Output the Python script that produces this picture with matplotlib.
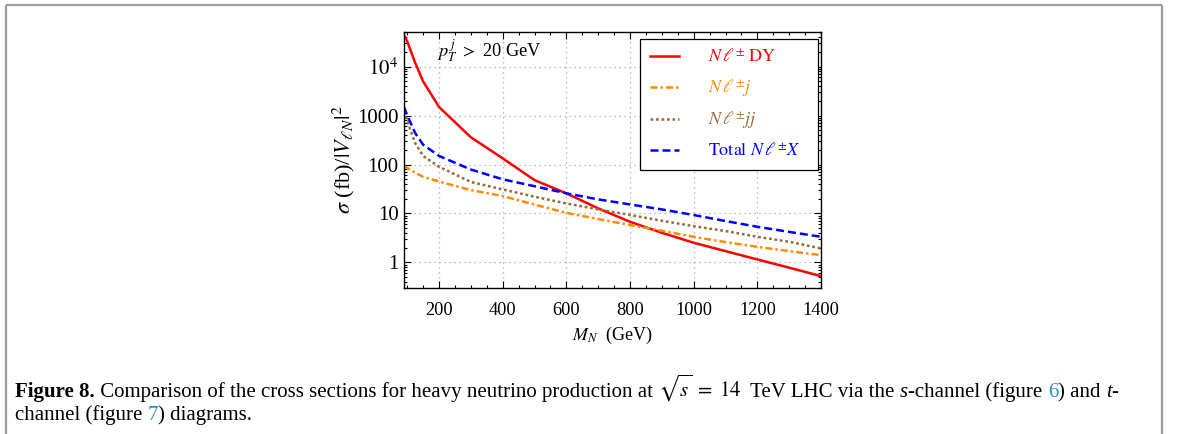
import matplotlib
matplotlib.use("Agg")
import matplotlib.pyplot as plt
from matplotlib.lines import Line2D
from matplotlib.ticker import FixedLocator, FuncFormatter, LogLocator, NullFormatter

plt.rcParams["font.family"] = ["Liberation Serif", "DejaVu Serif"]
plt.rcParams["mathtext.fontset"] = "stix"

# heavy neutrino mass (GeV) and cross sections sigma/|V|^2 (fb)
mass = [90, 100, 125, 150, 200, 300, 400, 500, 600, 700, 800, 900, 1000, 1100, 1200, 1300, 1400]
sigma_dy = [44000, 33000, 12000, 5000, 1500, 360, 134, 48, 25.8, 12.7, 6.76, 4.03, 2.52, 1.70, 1.15, 0.78, 0.525]
sigma_j = [94, 85, 68, 56, 45, 30, 22.7, 15.2, 10.3, 7.7, 5.8, 4.43, 3.34, 2.6, 2.08, 1.70, 1.41]
sigma_jj = [1230, 770, 275, 150, 90, 44, 31, 22, 16, 12.1, 9.3, 7.1, 5.5, 4.37, 3.34, 2.64, 1.93]
sigma_tot = [1500, 1010, 440, 254, 150, 79, 49.9, 36, 25.8, 19.4, 15.3, 12.1, 9.3, 7.0, 5.35, 4.2, 3.34]

x_ticks = [200, 400, 600, 800, 1000, 1200, 1400]
y_ticks = [1, 10, 100, 1000, 10000]
y_tick_labels = ["1", "10", "100", "1000", r"$10^4$"]

W, H = 1179, 434
fig = plt.figure(figsize=(W / 100, H / 100), dpi=100)

# page frame around the figure
frame = dict(color="#9e9e9e", lw=1.6, transform=fig.transFigure, solid_capstyle="butt")
fig.add_artist(Line2D([6 / W, 1162 / W], [1 - 5 / H, 1 - 5 / H], **frame))
fig.add_artist(Line2D([6 / W, 6 / W], [0, 1 - 5 / H], **frame))
fig.add_artist(Line2D([1162 / W, 1162 / W], [0, 1 - 5 / H], **frame))

ax = fig.add_axes([404 / W, 1 - 288 / H, (821 - 404) / W, (288 - 32) / H])

lw = 1.8
ax.plot(mass, sigma_dy, color="#ff0000", lw=lw, label=r"$N\,\ell^{\pm}\ \mathrm{DY}$")
ax.plot(mass, sigma_j, color="#ff8c00", lw=lw, dashes=(2.8, 1.2, 1.0, 1.2),
        label=r"$N\,\ell^{\pm} j$")
ax.plot(mass, sigma_jj, color="#9a6a3a", lw=lw, dashes=(1.1, 1.1),
        label=r"$N\,\ell^{\pm} jj$")
ax.plot(mass, sigma_tot, color="#0000ff", lw=lw, dashes=(3.2, 1.6),
        label=r"$\mathrm{Total}\ N\,\ell^{\pm} X$")

ax.set_yscale("log")
ax.set_xlim(90, 1400)
ax.set_ylim(0.3, 51000)

ax.xaxis.set_major_locator(FixedLocator(x_ticks))
ax.xaxis.set_minor_locator(FixedLocator(list(range(100, 1401, 50))))
ax.yaxis.set_major_locator(FixedLocator(y_ticks))
ax.yaxis.set_major_formatter(FuncFormatter(lambda v, p: dict(zip(y_ticks, y_tick_labels)).get(int(round(v)), "")))
ax.yaxis.set_minor_locator(LogLocator(base=10, subs=range(2, 10), numticks=20))
ax.yaxis.set_minor_formatter(NullFormatter())

ax.tick_params(which="both", direction="in", top=True, right=True, width=0.8)
ax.tick_params(which="major", length=5)
ax.tick_params(which="minor", length=2.5)
ax.tick_params(axis="x", labelsize=13.2, pad=10)
ax.tick_params(axis="y", labelsize=15, pad=4)
for s in ax.spines.values():
    s.set_linewidth(1.0)

ax.grid(True, which="major", color="#a8a8a8", linestyle=(0, (1, 3)), lw=0.9)

ax.set_xlabel(r"$M_N$  (GeV)", fontsize=13, labelpad=4)
ax.set_ylabel(r"$\sigma$ (fb)/$|V_{\ell N}|^2$", fontsize=16, labelpad=0)

ax.text(0.078, 0.925, r"$p_T^{\,j}\ >$ 20 GeV", transform=ax.transAxes, fontsize=13.2,
        ha="left", va="center")

leg = ax.legend(loc="upper left", bbox_to_anchor=(0.566, 0.465, 0.427, 0.508),
                mode="expand", borderaxespad=0,
                fontsize=13, fancybox=False, framealpha=1, edgecolor="black",
                handlelength=1.6, handletextpad=1.6, labelspacing=0.62,
                borderpad=0.55)
leg.get_frame().set_linewidth(0.9)
for txt, line in zip(leg.get_texts(), leg.get_lines()):
    txt.set_color(line.get_color())

# caption, set piece by piece so fonts and colours can change mid-line
renderer = fig.canvas.get_renderer()
cap_size = 15
link = "#2f8fc4"


def piece_width(s, **kw):
    a = fig.text(0, 0, "|" + s + "|", fontsize=cap_size, **kw)
    b = fig.text(0, 0, "||", fontsize=cap_size, **kw)
    w = a.get_window_extent(renderer).width - b.get_window_extent(renderer).width
    a.remove()
    b.remove()
    return w


def caption_line(pieces, x0, y0):
    x = x0
    for s, kw in pieces:
        fig.text(x / W, 1 - y0 / H, s, fontsize=cap_size, va="baseline", ha="left", **kw)
        x += piece_width(s, **kw)


plain = {}
caption_line([
    ("Figure 8.", dict(fontweight="bold")),
    (" Comparison of the cross sections for heavy neutrino production at ", plain),
    (r"$\sqrt{s}\;=\;14$", plain),
    ("  TeV LHC via the ", plain),
    ("s", dict(style="italic")),
    ("-channel (figure ", plain),
    ("6", dict(color=link)),
    (") and ", plain),
    ("t", dict(style="italic")),
    ("-", plain),
], 15, 397)
caption_line([
    ("channel (figure ", plain),
    ("7", dict(color=link)),
    (") diagrams.", plain),
], 15, 420)

fig.savefig("out.png", dpi=100)
